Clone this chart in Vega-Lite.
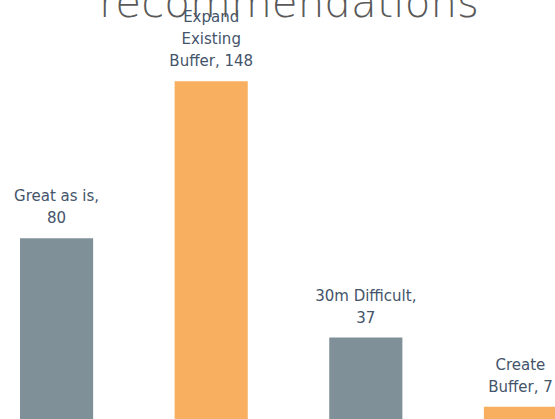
{
  "$schema": "https://vega.github.io/schema/vega-lite/v6.json",
  "width": 577,
  "height": 423,
  "padding": 0,
  "autosize": {"type": "none"},
  "background": "white",
  "title": {
    "text": "recommendations",
    "fontSize": 42,
    "font": "DejaVu Sans",
    "fontWeight": 200,
    "color": "#595959",
    "anchor": "start",
    "frame": "group",
    "dx": 99,
    "baseline": "alphabetic",
    "offset": -59
  },
  "data": {
    "values": [
      {"choice": "Great as is", "value": 80, "label": ["80", "Great as is,"], "buffer": "no"},
      {"choice": "Expand Existing Buffer", "value": 148, "label": ["Buffer, 148", "Existing", "Expand"], "buffer": "yes"},
      {"choice": "30m Difficult", "value": 37, "label": ["37", "30m Difficult,"], "buffer": "no"},
      {"choice": "Create Buffer", "value": 7, "label": ["Buffer, 7", "Create"], "buffer": "yes"}
    ]
  },
  "encoding": {
    "x": {
      "field": "choice",
      "type": "nominal",
      "sort": null,
      "scale": {"paddingInner": 0.527, "paddingOuter": 0.1294},
      "axis": null
    },
    "y": {
      "field": "value",
      "type": "quantitative",
      "scale": {"domain": [0, 183.2], "nice": false, "zero": true},
      "axis": null
    }
  },
  "layer": [
    {
      "mark": {"type": "bar"},
      "encoding": {
        "color": {
          "field": "buffer",
          "type": "nominal",
          "scale": {"domain": ["no", "yes"], "range": ["#7f9099", "#f8b060"]},
          "legend": null
        }
      }
    },
    {
      "mark": {
        "type": "text",
        "baseline": "alphabetic",
        "align": "center",
        "dy": -15,
        "font": "DejaVu Sans",
        "fontSize": 15,
        "lineHeight": -22,
        "color": "#44546a"
      },
      "encoding": {
        "text": {"field": "label"}
      }
    }
  ],
  "config": {"view": {"stroke": null}}
}
